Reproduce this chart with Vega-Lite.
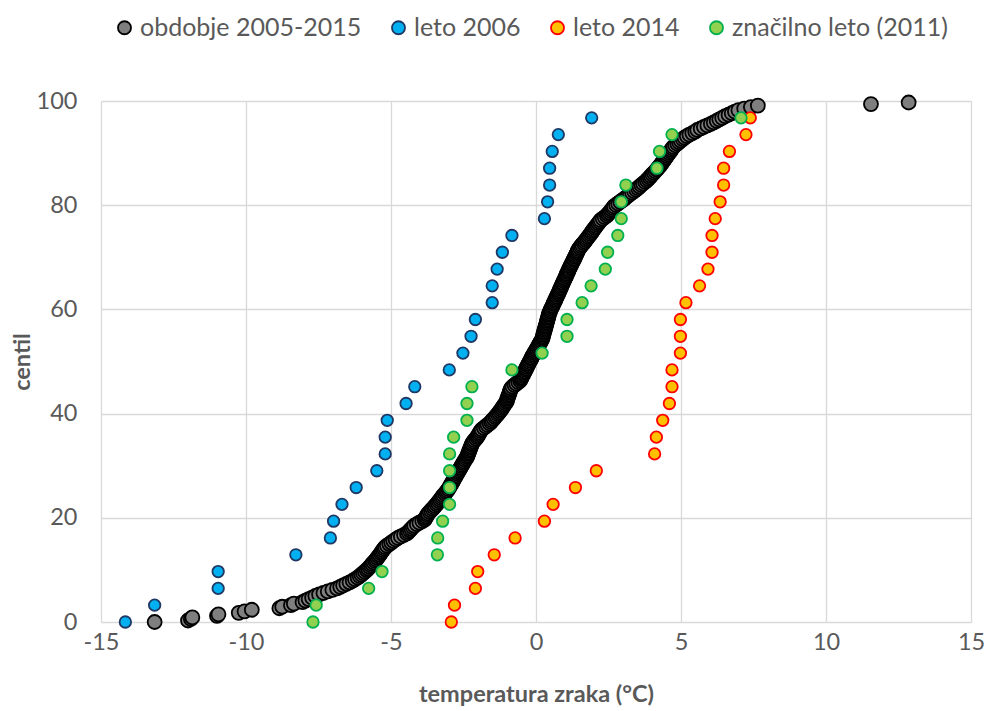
{
"$schema": "https://vega.github.io/schema/vega-lite/v6.json",
"width": 870, "height": 521,
"autosize": "none",
"padding": {"left": 101, "top": 101, "right": 13, "bottom": 89},
"background": "white",
"config": {"font": "Lato", "view": {"stroke": null},
 "axis": {"grid": true, "gridColor": "#d9d9d9", "gridWidth": 1.3, "domain": false, "ticks": false, "labelFlush": false, "labelFont": "Lato", "labelFontSize": 23.5, "labelColor": "#595959", "titleFont": "Lato", "titleFontSize": 23.5, "titleFontWeight": "bold", "titleColor": "#595959", "labelExpr": "replace(datum.label, '−', '-')"}},
"data": {"values": [
{"s":"obdobje 2005-2015","x":-13.15,"y":0},{"s":"obdobje 2005-2015","x":-12.0,"y":0.29},{"s":"obdobje 2005-2015","x":-11.9,"y":0.59},{"s":"obdobje 2005-2015","x":-11.85,"y":0.88},{"s":"obdobje 2005-2015","x":-11.0,"y":1.17},{"s":"obdobje 2005-2015","x":-10.95,"y":1.47},{"s":"obdobje 2005-2015","x":-10.25,"y":1.76},{"s":"obdobje 2005-2015","x":-10.05,"y":2.05},{"s":"obdobje 2005-2015","x":-9.8,"y":2.35},{"s":"obdobje 2005-2015","x":-8.85,"y":2.64},
{"s":"obdobje 2005-2015","x":-8.75,"y":2.93},{"s":"obdobje 2005-2015","x":-8.45,"y":3.23},{"s":"obdobje 2005-2015","x":-8.35,"y":3.52},{"s":"obdobje 2005-2015","x":-8.05,"y":3.81},{"s":"obdobje 2005-2015","x":-7.95,"y":4.11},{"s":"obdobje 2005-2015","x":-7.84,"y":4.40},{"s":"obdobje 2005-2015","x":-7.72,"y":4.69},{"s":"obdobje 2005-2015","x":-7.61,"y":4.99},{"s":"obdobje 2005-2015","x":-7.48,"y":5.28},{"s":"obdobje 2005-2015","x":-7.33,"y":5.57},
{"s":"obdobje 2005-2015","x":-7.18,"y":5.87},{"s":"obdobje 2005-2015","x":-7.02,"y":6.16},{"s":"obdobje 2005-2015","x":-6.86,"y":6.45},{"s":"obdobje 2005-2015","x":-6.75,"y":6.74},{"s":"obdobje 2005-2015","x":-6.65,"y":7.04},{"s":"obdobje 2005-2015","x":-6.54,"y":7.33},{"s":"obdobje 2005-2015","x":-6.43,"y":7.62},{"s":"obdobje 2005-2015","x":-6.32,"y":7.92},{"s":"obdobje 2005-2015","x":-6.24,"y":8.21},{"s":"obdobje 2005-2015","x":-6.15,"y":8.50},
{"s":"obdobje 2005-2015","x":-6.08,"y":8.80},{"s":"obdobje 2005-2015","x":-6.02,"y":9.09},{"s":"obdobje 2005-2015","x":-5.96,"y":9.38},{"s":"obdobje 2005-2015","x":-5.90,"y":9.68},{"s":"obdobje 2005-2015","x":-5.84,"y":9.97},{"s":"obdobje 2005-2015","x":-5.79,"y":10.26},{"s":"obdobje 2005-2015","x":-5.74,"y":10.56},{"s":"obdobje 2005-2015","x":-5.69,"y":10.85},{"s":"obdobje 2005-2015","x":-5.65,"y":11.14},{"s":"obdobje 2005-2015","x":-5.60,"y":11.44},
{"s":"obdobje 2005-2015","x":-5.55,"y":11.73},{"s":"obdobje 2005-2015","x":-5.51,"y":12.02},{"s":"obdobje 2005-2015","x":-5.47,"y":12.32},{"s":"obdobje 2005-2015","x":-5.43,"y":12.61},{"s":"obdobje 2005-2015","x":-5.39,"y":12.90},{"s":"obdobje 2005-2015","x":-5.35,"y":13.20},{"s":"obdobje 2005-2015","x":-5.32,"y":13.49},{"s":"obdobje 2005-2015","x":-5.28,"y":13.78},{"s":"obdobje 2005-2015","x":-5.24,"y":14.08},{"s":"obdobje 2005-2015","x":-5.20,"y":14.37},
{"s":"obdobje 2005-2015","x":-5.14,"y":14.66},{"s":"obdobje 2005-2015","x":-5.06,"y":14.96},{"s":"obdobje 2005-2015","x":-4.99,"y":15.25},{"s":"obdobje 2005-2015","x":-4.92,"y":15.54},{"s":"obdobje 2005-2015","x":-4.84,"y":15.84},{"s":"obdobje 2005-2015","x":-4.76,"y":16.13},{"s":"obdobje 2005-2015","x":-4.66,"y":16.42},{"s":"obdobje 2005-2015","x":-4.55,"y":16.72},{"s":"obdobje 2005-2015","x":-4.45,"y":17.01},{"s":"obdobje 2005-2015","x":-4.40,"y":17.30},
{"s":"obdobje 2005-2015","x":-4.35,"y":17.60},{"s":"obdobje 2005-2015","x":-4.30,"y":17.89},{"s":"obdobje 2005-2015","x":-4.25,"y":18.18},{"s":"obdobje 2005-2015","x":-4.20,"y":18.48},{"s":"obdobje 2005-2015","x":-4.11,"y":18.77},{"s":"obdobje 2005-2015","x":-4.02,"y":19.06},{"s":"obdobje 2005-2015","x":-3.92,"y":19.35},{"s":"obdobje 2005-2015","x":-3.84,"y":19.65},{"s":"obdobje 2005-2015","x":-3.81,"y":19.94},{"s":"obdobje 2005-2015","x":-3.78,"y":20.23},
{"s":"obdobje 2005-2015","x":-3.75,"y":20.53},{"s":"obdobje 2005-2015","x":-3.72,"y":20.82},{"s":"obdobje 2005-2015","x":-3.67,"y":21.11},{"s":"obdobje 2005-2015","x":-3.62,"y":21.41},{"s":"obdobje 2005-2015","x":-3.57,"y":21.70},{"s":"obdobje 2005-2015","x":-3.52,"y":21.99},{"s":"obdobje 2005-2015","x":-3.48,"y":22.29},{"s":"obdobje 2005-2015","x":-3.43,"y":22.58},{"s":"obdobje 2005-2015","x":-3.39,"y":22.87},{"s":"obdobje 2005-2015","x":-3.35,"y":23.17},
{"s":"obdobje 2005-2015","x":-3.31,"y":23.46},{"s":"obdobje 2005-2015","x":-3.27,"y":23.75},{"s":"obdobje 2005-2015","x":-3.23,"y":24.05},{"s":"obdobje 2005-2015","x":-3.19,"y":24.34},{"s":"obdobje 2005-2015","x":-3.14,"y":24.63},{"s":"obdobje 2005-2015","x":-3.10,"y":24.93},{"s":"obdobje 2005-2015","x":-3.06,"y":25.22},{"s":"obdobje 2005-2015","x":-3.02,"y":25.51},{"s":"obdobje 2005-2015","x":-2.99,"y":25.81},{"s":"obdobje 2005-2015","x":-2.96,"y":26.10},
{"s":"obdobje 2005-2015","x":-2.93,"y":26.39},{"s":"obdobje 2005-2015","x":-2.90,"y":26.69},{"s":"obdobje 2005-2015","x":-2.87,"y":26.98},{"s":"obdobje 2005-2015","x":-2.84,"y":27.27},{"s":"obdobje 2005-2015","x":-2.81,"y":27.57},{"s":"obdobje 2005-2015","x":-2.78,"y":27.86},{"s":"obdobje 2005-2015","x":-2.75,"y":28.15},{"s":"obdobje 2005-2015","x":-2.72,"y":28.45},{"s":"obdobje 2005-2015","x":-2.69,"y":28.74},{"s":"obdobje 2005-2015","x":-2.66,"y":29.03},
{"s":"obdobje 2005-2015","x":-2.63,"y":29.33},{"s":"obdobje 2005-2015","x":-2.60,"y":29.62},{"s":"obdobje 2005-2015","x":-2.57,"y":29.91},{"s":"obdobje 2005-2015","x":-2.54,"y":30.21},{"s":"obdobje 2005-2015","x":-2.51,"y":30.50},{"s":"obdobje 2005-2015","x":-2.48,"y":30.79},{"s":"obdobje 2005-2015","x":-2.45,"y":31.09},{"s":"obdobje 2005-2015","x":-2.41,"y":31.38},{"s":"obdobje 2005-2015","x":-2.38,"y":31.67},{"s":"obdobje 2005-2015","x":-2.36,"y":31.96},
{"s":"obdobje 2005-2015","x":-2.34,"y":32.26},{"s":"obdobje 2005-2015","x":-2.32,"y":32.55},{"s":"obdobje 2005-2015","x":-2.30,"y":32.84},{"s":"obdobje 2005-2015","x":-2.28,"y":33.14},{"s":"obdobje 2005-2015","x":-2.26,"y":33.43},{"s":"obdobje 2005-2015","x":-2.24,"y":33.72},{"s":"obdobje 2005-2015","x":-2.22,"y":34.02},{"s":"obdobje 2005-2015","x":-2.20,"y":34.31},{"s":"obdobje 2005-2015","x":-2.16,"y":34.60},{"s":"obdobje 2005-2015","x":-2.12,"y":34.90},
{"s":"obdobje 2005-2015","x":-2.07,"y":35.19},{"s":"obdobje 2005-2015","x":-2.03,"y":35.48},{"s":"obdobje 2005-2015","x":-2.00,"y":35.78},{"s":"obdobje 2005-2015","x":-1.97,"y":36.07},{"s":"obdobje 2005-2015","x":-1.94,"y":36.36},{"s":"obdobje 2005-2015","x":-1.91,"y":36.66},{"s":"obdobje 2005-2015","x":-1.87,"y":36.95},{"s":"obdobje 2005-2015","x":-1.80,"y":37.24},{"s":"obdobje 2005-2015","x":-1.73,"y":37.54},{"s":"obdobje 2005-2015","x":-1.67,"y":37.83},
{"s":"obdobje 2005-2015","x":-1.60,"y":38.12},{"s":"obdobje 2005-2015","x":-1.55,"y":38.42},{"s":"obdobje 2005-2015","x":-1.51,"y":38.71},{"s":"obdobje 2005-2015","x":-1.46,"y":39.00},{"s":"obdobje 2005-2015","x":-1.41,"y":39.30},{"s":"obdobje 2005-2015","x":-1.37,"y":39.59},{"s":"obdobje 2005-2015","x":-1.32,"y":39.88},{"s":"obdobje 2005-2015","x":-1.28,"y":40.18},{"s":"obdobje 2005-2015","x":-1.24,"y":40.47},{"s":"obdobje 2005-2015","x":-1.20,"y":40.76},
{"s":"obdobje 2005-2015","x":-1.17,"y":41.06},{"s":"obdobje 2005-2015","x":-1.13,"y":41.35},{"s":"obdobje 2005-2015","x":-1.10,"y":41.64},{"s":"obdobje 2005-2015","x":-1.06,"y":41.94},{"s":"obdobje 2005-2015","x":-1.02,"y":42.23},{"s":"obdobje 2005-2015","x":-1.00,"y":42.52},{"s":"obdobje 2005-2015","x":-0.99,"y":42.82},{"s":"obdobje 2005-2015","x":-0.97,"y":43.11},{"s":"obdobje 2005-2015","x":-0.95,"y":43.40},{"s":"obdobje 2005-2015","x":-0.93,"y":43.70},
{"s":"obdobje 2005-2015","x":-0.91,"y":43.99},{"s":"obdobje 2005-2015","x":-0.90,"y":44.28},{"s":"obdobje 2005-2015","x":-0.88,"y":44.57},{"s":"obdobje 2005-2015","x":-0.86,"y":44.87},{"s":"obdobje 2005-2015","x":-0.81,"y":45.16},{"s":"obdobje 2005-2015","x":-0.74,"y":45.45},{"s":"obdobje 2005-2015","x":-0.68,"y":45.75},{"s":"obdobje 2005-2015","x":-0.61,"y":46.04},{"s":"obdobje 2005-2015","x":-0.55,"y":46.33},{"s":"obdobje 2005-2015","x":-0.52,"y":46.63},
{"s":"obdobje 2005-2015","x":-0.50,"y":46.92},{"s":"obdobje 2005-2015","x":-0.47,"y":47.21},{"s":"obdobje 2005-2015","x":-0.44,"y":47.51},{"s":"obdobje 2005-2015","x":-0.42,"y":47.80},{"s":"obdobje 2005-2015","x":-0.39,"y":48.09},{"s":"obdobje 2005-2015","x":-0.36,"y":48.39},{"s":"obdobje 2005-2015","x":-0.34,"y":48.68},{"s":"obdobje 2005-2015","x":-0.31,"y":48.97},{"s":"obdobje 2005-2015","x":-0.28,"y":49.27},{"s":"obdobje 2005-2015","x":-0.26,"y":49.56},
{"s":"obdobje 2005-2015","x":-0.23,"y":49.85},{"s":"obdobje 2005-2015","x":-0.20,"y":50.15},{"s":"obdobje 2005-2015","x":-0.17,"y":50.44},{"s":"obdobje 2005-2015","x":-0.15,"y":50.73},{"s":"obdobje 2005-2015","x":-0.12,"y":51.03},{"s":"obdobje 2005-2015","x":-0.09,"y":51.32},{"s":"obdobje 2005-2015","x":-0.06,"y":51.61},{"s":"obdobje 2005-2015","x":-0.03,"y":51.91},{"s":"obdobje 2005-2015","x":0.00,"y":52.20},{"s":"obdobje 2005-2015","x":0.03,"y":52.49},
{"s":"obdobje 2005-2015","x":0.06,"y":52.79},{"s":"obdobje 2005-2015","x":0.09,"y":53.08},{"s":"obdobje 2005-2015","x":0.12,"y":53.37},{"s":"obdobje 2005-2015","x":0.15,"y":53.67},{"s":"obdobje 2005-2015","x":0.18,"y":53.96},{"s":"obdobje 2005-2015","x":0.21,"y":54.25},{"s":"obdobje 2005-2015","x":0.23,"y":54.55},{"s":"obdobje 2005-2015","x":0.24,"y":54.84},{"s":"obdobje 2005-2015","x":0.25,"y":55.13},{"s":"obdobje 2005-2015","x":0.27,"y":55.43},
{"s":"obdobje 2005-2015","x":0.28,"y":55.72},{"s":"obdobje 2005-2015","x":0.30,"y":56.01},{"s":"obdobje 2005-2015","x":0.31,"y":56.30},{"s":"obdobje 2005-2015","x":0.33,"y":56.60},{"s":"obdobje 2005-2015","x":0.34,"y":56.89},{"s":"obdobje 2005-2015","x":0.36,"y":57.18},{"s":"obdobje 2005-2015","x":0.37,"y":57.48},{"s":"obdobje 2005-2015","x":0.38,"y":57.77},{"s":"obdobje 2005-2015","x":0.40,"y":58.06},{"s":"obdobje 2005-2015","x":0.41,"y":58.36},
{"s":"obdobje 2005-2015","x":0.43,"y":58.65},{"s":"obdobje 2005-2015","x":0.44,"y":58.94},{"s":"obdobje 2005-2015","x":0.45,"y":59.24},{"s":"obdobje 2005-2015","x":0.48,"y":59.53},{"s":"obdobje 2005-2015","x":0.50,"y":59.82},{"s":"obdobje 2005-2015","x":0.52,"y":60.12},{"s":"obdobje 2005-2015","x":0.55,"y":60.41},{"s":"obdobje 2005-2015","x":0.57,"y":60.70},{"s":"obdobje 2005-2015","x":0.60,"y":61.00},{"s":"obdobje 2005-2015","x":0.62,"y":61.29},
{"s":"obdobje 2005-2015","x":0.65,"y":61.58},{"s":"obdobje 2005-2015","x":0.67,"y":61.88},{"s":"obdobje 2005-2015","x":0.69,"y":62.17},{"s":"obdobje 2005-2015","x":0.72,"y":62.46},{"s":"obdobje 2005-2015","x":0.74,"y":62.76},{"s":"obdobje 2005-2015","x":0.77,"y":63.05},{"s":"obdobje 2005-2015","x":0.79,"y":63.34},{"s":"obdobje 2005-2015","x":0.81,"y":63.64},{"s":"obdobje 2005-2015","x":0.84,"y":63.93},{"s":"obdobje 2005-2015","x":0.86,"y":64.22},
{"s":"obdobje 2005-2015","x":0.88,"y":64.52},{"s":"obdobje 2005-2015","x":0.91,"y":64.81},{"s":"obdobje 2005-2015","x":0.93,"y":65.10},{"s":"obdobje 2005-2015","x":0.95,"y":65.40},{"s":"obdobje 2005-2015","x":0.98,"y":65.69},{"s":"obdobje 2005-2015","x":1.00,"y":65.98},{"s":"obdobje 2005-2015","x":1.03,"y":66.28},{"s":"obdobje 2005-2015","x":1.05,"y":66.57},{"s":"obdobje 2005-2015","x":1.07,"y":66.86},{"s":"obdobje 2005-2015","x":1.10,"y":67.16},
{"s":"obdobje 2005-2015","x":1.12,"y":67.45},{"s":"obdobje 2005-2015","x":1.14,"y":67.74},{"s":"obdobje 2005-2015","x":1.17,"y":68.04},{"s":"obdobje 2005-2015","x":1.19,"y":68.33},{"s":"obdobje 2005-2015","x":1.22,"y":68.62},{"s":"obdobje 2005-2015","x":1.24,"y":68.91},{"s":"obdobje 2005-2015","x":1.27,"y":69.21},{"s":"obdobje 2005-2015","x":1.30,"y":69.50},{"s":"obdobje 2005-2015","x":1.32,"y":69.79},{"s":"obdobje 2005-2015","x":1.35,"y":70.09},
{"s":"obdobje 2005-2015","x":1.37,"y":70.38},{"s":"obdobje 2005-2015","x":1.40,"y":70.67},{"s":"obdobje 2005-2015","x":1.42,"y":70.97},{"s":"obdobje 2005-2015","x":1.44,"y":71.26},{"s":"obdobje 2005-2015","x":1.47,"y":71.55},{"s":"obdobje 2005-2015","x":1.51,"y":71.85},{"s":"obdobje 2005-2015","x":1.55,"y":72.14},{"s":"obdobje 2005-2015","x":1.59,"y":72.43},{"s":"obdobje 2005-2015","x":1.64,"y":72.73},{"s":"obdobje 2005-2015","x":1.68,"y":73.02},
{"s":"obdobje 2005-2015","x":1.72,"y":73.31},{"s":"obdobje 2005-2015","x":1.76,"y":73.61},{"s":"obdobje 2005-2015","x":1.80,"y":73.90},{"s":"obdobje 2005-2015","x":1.84,"y":74.19},{"s":"obdobje 2005-2015","x":1.88,"y":74.49},{"s":"obdobje 2005-2015","x":1.92,"y":74.78},{"s":"obdobje 2005-2015","x":1.95,"y":75.07},{"s":"obdobje 2005-2015","x":1.99,"y":75.37},{"s":"obdobje 2005-2015","x":2.03,"y":75.66},{"s":"obdobje 2005-2015","x":2.07,"y":75.95},
{"s":"obdobje 2005-2015","x":2.11,"y":76.25},{"s":"obdobje 2005-2015","x":2.15,"y":76.54},{"s":"obdobje 2005-2015","x":2.19,"y":76.83},{"s":"obdobje 2005-2015","x":2.23,"y":77.13},{"s":"obdobje 2005-2015","x":2.30,"y":77.42},{"s":"obdobje 2005-2015","x":2.37,"y":77.71},{"s":"obdobje 2005-2015","x":2.44,"y":78.01},{"s":"obdobje 2005-2015","x":2.48,"y":78.30},{"s":"obdobje 2005-2015","x":2.53,"y":78.59},{"s":"obdobje 2005-2015","x":2.57,"y":78.89},
{"s":"obdobje 2005-2015","x":2.61,"y":79.18},{"s":"obdobje 2005-2015","x":2.65,"y":79.47},{"s":"obdobje 2005-2015","x":2.69,"y":79.77},{"s":"obdobje 2005-2015","x":2.76,"y":80.06},{"s":"obdobje 2005-2015","x":2.83,"y":80.35},{"s":"obdobje 2005-2015","x":2.90,"y":80.65},{"s":"obdobje 2005-2015","x":2.97,"y":80.94},{"s":"obdobje 2005-2015","x":3.04,"y":81.23},{"s":"obdobje 2005-2015","x":3.11,"y":81.52},{"s":"obdobje 2005-2015","x":3.17,"y":81.82},
{"s":"obdobje 2005-2015","x":3.24,"y":82.11},{"s":"obdobje 2005-2015","x":3.31,"y":82.40},{"s":"obdobje 2005-2015","x":3.38,"y":82.70},{"s":"obdobje 2005-2015","x":3.45,"y":82.99},{"s":"obdobje 2005-2015","x":3.51,"y":83.28},{"s":"obdobje 2005-2015","x":3.57,"y":83.58},{"s":"obdobje 2005-2015","x":3.63,"y":83.87},{"s":"obdobje 2005-2015","x":3.69,"y":84.16},{"s":"obdobje 2005-2015","x":3.76,"y":84.46},{"s":"obdobje 2005-2015","x":3.82,"y":84.75},
{"s":"obdobje 2005-2015","x":3.87,"y":85.04},{"s":"obdobje 2005-2015","x":3.92,"y":85.34},{"s":"obdobje 2005-2015","x":3.96,"y":85.63},{"s":"obdobje 2005-2015","x":4.01,"y":85.92},{"s":"obdobje 2005-2015","x":4.06,"y":86.22},{"s":"obdobje 2005-2015","x":4.11,"y":86.51},{"s":"obdobje 2005-2015","x":4.16,"y":86.80},{"s":"obdobje 2005-2015","x":4.20,"y":87.10},{"s":"obdobje 2005-2015","x":4.25,"y":87.39},{"s":"obdobje 2005-2015","x":4.29,"y":87.68},
{"s":"obdobje 2005-2015","x":4.33,"y":87.98},{"s":"obdobje 2005-2015","x":4.36,"y":88.27},{"s":"obdobje 2005-2015","x":4.40,"y":88.56},{"s":"obdobje 2005-2015","x":4.44,"y":88.86},{"s":"obdobje 2005-2015","x":4.48,"y":89.15},{"s":"obdobje 2005-2015","x":4.51,"y":89.44},{"s":"obdobje 2005-2015","x":4.55,"y":89.74},{"s":"obdobje 2005-2015","x":4.59,"y":90.03},{"s":"obdobje 2005-2015","x":4.63,"y":90.32},{"s":"obdobje 2005-2015","x":4.66,"y":90.62},
{"s":"obdobje 2005-2015","x":4.70,"y":90.91},{"s":"obdobje 2005-2015","x":4.74,"y":91.20},{"s":"obdobje 2005-2015","x":4.80,"y":91.50},{"s":"obdobje 2005-2015","x":4.87,"y":91.79},{"s":"obdobje 2005-2015","x":4.93,"y":92.08},{"s":"obdobje 2005-2015","x":4.99,"y":92.38},{"s":"obdobje 2005-2015","x":5.06,"y":92.67},{"s":"obdobje 2005-2015","x":5.12,"y":92.96},{"s":"obdobje 2005-2015","x":5.20,"y":93.26},{"s":"obdobje 2005-2015","x":5.29,"y":93.55},
{"s":"obdobje 2005-2015","x":5.39,"y":93.84},{"s":"obdobje 2005-2015","x":5.49,"y":94.13},{"s":"obdobje 2005-2015","x":5.56,"y":94.43},{"s":"obdobje 2005-2015","x":5.68,"y":94.72},{"s":"obdobje 2005-2015","x":5.79,"y":95.01},{"s":"obdobje 2005-2015","x":5.91,"y":95.31},{"s":"obdobje 2005-2015","x":6.03,"y":95.60},{"s":"obdobje 2005-2015","x":6.13,"y":95.89},{"s":"obdobje 2005-2015","x":6.23,"y":96.19},{"s":"obdobje 2005-2015","x":6.32,"y":96.48},
{"s":"obdobje 2005-2015","x":6.42,"y":96.77},{"s":"obdobje 2005-2015","x":6.52,"y":97.07},{"s":"obdobje 2005-2015","x":6.64,"y":97.36},{"s":"obdobje 2005-2015","x":6.75,"y":97.65},{"s":"obdobje 2005-2015","x":6.86,"y":97.95},{"s":"obdobje 2005-2015","x":6.98,"y":98.24},{"s":"obdobje 2005-2015","x":7.18,"y":98.53},{"s":"obdobje 2005-2015","x":7.41,"y":98.83},{"s":"obdobje 2005-2015","x":7.65,"y":99.12},{"s":"obdobje 2005-2015","x":11.55,"y":99.41},
{"s":"obdobje 2005-2015","x":12.85,"y":99.71},
{"s":"leto 2006","x":-14.16,"y":0},{"s":"leto 2006","x":-13.15,"y":3.23},{"s":"leto 2006","x":-10.96,"y":6.45},{"s":"leto 2006","x":-10.96,"y":9.68},{"s":"leto 2006","x":-8.28,"y":12.9},{"s":"leto 2006","x":-7.09,"y":16.13},{"s":"leto 2006","x":-6.98,"y":19.35},{"s":"leto 2006","x":-6.69,"y":22.58},{"s":"leto 2006","x":-6.2,"y":25.81},{"s":"leto 2006","x":-5.49,"y":29.03},{"s":"leto 2006","x":-5.2,"y":32.26},{"s":"leto 2006","x":-5.2,"y":35.48},{"s":"leto 2006","x":-5.13,"y":38.71},{"s":"leto 2006","x":-4.48,"y":41.94},{"s":"leto 2006","x":-4.18,"y":45.16},{"s":"leto 2006","x":-2.99,"y":48.39},{"s":"leto 2006","x":-2.52,"y":51.61},{"s":"leto 2006","x":-2.24,"y":54.84},{"s":"leto 2006","x":-2.09,"y":58.06},{"s":"leto 2006","x":-1.51,"y":61.29},{"s":"leto 2006","x":-1.51,"y":64.52},{"s":"leto 2006","x":-1.34,"y":67.74},{"s":"leto 2006","x":-1.16,"y":70.97},{"s":"leto 2006","x":-0.83,"y":74.19},{"s":"leto 2006","x":0.29,"y":77.42},{"s":"leto 2006","x":0.4,"y":80.65},{"s":"leto 2006","x":0.47,"y":83.87},{"s":"leto 2006","x":0.47,"y":87.1},{"s":"leto 2006","x":0.56,"y":90.32},{"s":"leto 2006","x":0.77,"y":93.55},{"s":"leto 2006","x":1.92,"y":96.77},
{"s":"leto 2014","x":-2.92,"y":0},{"s":"leto 2014","x":-2.81,"y":3.23},{"s":"leto 2014","x":-2.09,"y":6.45},{"s":"leto 2014","x":-2.01,"y":9.68},{"s":"leto 2014","x":-1.44,"y":12.9},{"s":"leto 2014","x":-0.72,"y":16.13},{"s":"leto 2014","x":0.29,"y":19.35},{"s":"leto 2014","x":0.59,"y":22.58},{"s":"leto 2014","x":1.36,"y":25.81},{"s":"leto 2014","x":2.08,"y":29.03},{"s":"leto 2014","x":4.09,"y":32.26},{"s":"leto 2014","x":4.15,"y":35.48},{"s":"leto 2014","x":4.37,"y":38.71},{"s":"leto 2014","x":4.6,"y":41.94},{"s":"leto 2014","x":4.69,"y":45.16},{"s":"leto 2014","x":4.69,"y":48.39},{"s":"leto 2014","x":4.98,"y":51.61},{"s":"leto 2014","x":4.98,"y":54.84},{"s":"leto 2014","x":4.98,"y":58.06},{"s":"leto 2014","x":5.17,"y":61.29},{"s":"leto 2014","x":5.64,"y":64.52},{"s":"leto 2014","x":5.93,"y":67.74},{"s":"leto 2014","x":6.07,"y":70.97},{"s":"leto 2014","x":6.07,"y":74.19},{"s":"leto 2014","x":6.18,"y":77.42},{"s":"leto 2014","x":6.35,"y":80.65},{"s":"leto 2014","x":6.47,"y":83.87},{"s":"leto 2014","x":6.47,"y":87.1},{"s":"leto 2014","x":6.67,"y":90.32},{"s":"leto 2014","x":7.24,"y":93.55},{"s":"leto 2014","x":7.39,"y":96.77},
{"s":"značilno leto (2011)","x":-7.69,"y":0},{"s":"značilno leto (2011)","x":-7.58,"y":3.23},{"s":"značilno leto (2011)","x":-5.77,"y":6.45},{"s":"značilno leto (2011)","x":-5.31,"y":9.68},{"s":"značilno leto (2011)","x":-3.4,"y":12.9},{"s":"značilno leto (2011)","x":-3.39,"y":16.13},{"s":"značilno leto (2011)","x":-3.22,"y":19.35},{"s":"značilno leto (2011)","x":-2.98,"y":22.58},{"s":"značilno leto (2011)","x":-2.98,"y":25.81},{"s":"značilno leto (2011)","x":-2.98,"y":29.03},{"s":"značilno leto (2011)","x":-2.98,"y":32.26},{"s":"značilno leto (2011)","x":-2.84,"y":35.48},{"s":"značilno leto (2011)","x":-2.38,"y":38.71},{"s":"značilno leto (2011)","x":-2.38,"y":41.94},{"s":"značilno leto (2011)","x":-2.21,"y":45.16},{"s":"značilno leto (2011)","x":-0.83,"y":48.39},{"s":"značilno leto (2011)","x":0.21,"y":51.61},{"s":"značilno leto (2011)","x":1.07,"y":54.84},{"s":"značilno leto (2011)","x":1.07,"y":58.06},{"s":"značilno leto (2011)","x":1.59,"y":61.29},{"s":"značilno leto (2011)","x":1.9,"y":64.52},{"s":"značilno leto (2011)","x":2.39,"y":67.74},{"s":"značilno leto (2011)","x":2.47,"y":70.97},{"s":"značilno leto (2011)","x":2.82,"y":74.19},{"s":"značilno leto (2011)","x":2.94,"y":77.42},{"s":"značilno leto (2011)","x":2.94,"y":80.65},{"s":"značilno leto (2011)","x":3.1,"y":83.87},{"s":"značilno leto (2011)","x":4.17,"y":87.1},{"s":"značilno leto (2011)","x":4.26,"y":90.32},{"s":"značilno leto (2011)","x":4.69,"y":93.55},{"s":"značilno leto (2011)","x":7.07,"y":96.77}
]},
"encoding": {
 "x": {"field": "x", "type": "quantitative", "scale": {"domain": [-15, 15], "nice": false, "zero": false}, "axis": {"title": "temperatura zraka (°C)", "values": [-15, -10, -5, 0, 5, 10, 15], "labelPadding": 8, "titlePadding": 29}},
 "y": {"field": "y", "type": "quantitative", "scale": {"domain": [0, 100], "nice": false}, "axis": {"title": "centil", "values": [0, 20, 40, 60, 80, 100], "labelPadding": 24, "titlePadding": 2}},
 "fill": {"field": "s", "type": "nominal", "scale": {"domain": ["obdobje 2005-2015", "leto 2006", "leto 2014", "značilno leto (2011)"], "range": ["#7f7f7f", "#00b0f0", "#ffc000", "#92d050"]},
   "legend": {"title": null, "orient": "none", "legendX": 11, "legendY": -86, "direction": "horizontal", "labelFont": "Lato", "labelFontSize": 25, "labelColor": "#595959", "labelLimit": 0, "symbolType": "circle", "symbolSize": 170, "symbolStrokeWidth": 1.8, "labelOffset": 3, "columnPadding": 24}},
 "stroke": {"field": "s", "type": "nominal", "scale": {"domain": ["obdobje 2005-2015", "leto 2006", "leto 2014", "značilno leto (2011)"], "range": ["#000000", "#1f3864", "#ff0000", "#00b050"]},
   "legend": {"title": null, "orient": "none", "legendX": 11, "legendY": -86, "direction": "horizontal", "labelFont": "Lato", "labelFontSize": 25, "labelColor": "#595959", "labelLimit": 0, "symbolType": "circle", "symbolSize": 170, "symbolStrokeWidth": 1.8, "labelOffset": 3, "columnPadding": 24}}
},
"layer": [
 {"transform": [{"filter": "datum.s === 'obdobje 2005-2015'"}], "mark": {"type": "circle", "size": 196, "strokeWidth": 1.8, "opacity": 1}},
 {"transform": [{"filter": "datum.s !== 'obdobje 2005-2015'"}], "mark": {"type": "circle", "size": 132, "strokeWidth": 1.8, "opacity": 1}}
]
}
